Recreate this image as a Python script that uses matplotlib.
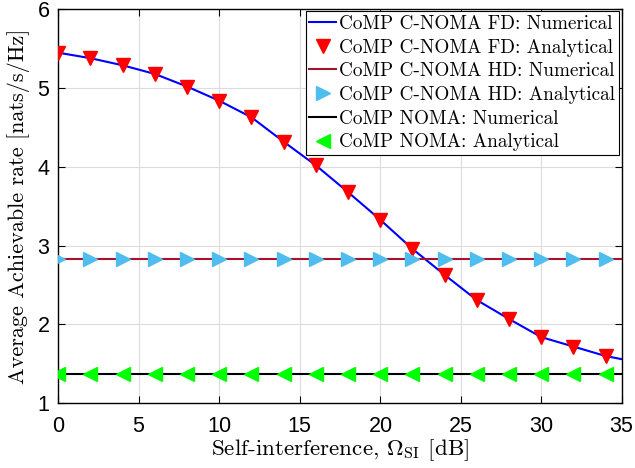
import matplotlib
matplotlib.use("Agg")
import matplotlib.pyplot as plt
import numpy as np

plt.rcParams['mathtext.fontset'] = 'cm'
plt.rcParams['axes.formatter.use_mathtext'] = True

# Data
si_db = [0, 2, 4, 6, 8, 10, 12, 14, 16, 18, 20, 22, 24, 26, 28, 30, 32, 34]
fd_analytical = [5.45, 5.38, 5.29, 5.18, 5.02, 4.84, 4.63, 4.32, 4.02, 3.68,
                 3.33, 2.96, 2.63, 2.31, 2.07, 1.84, 1.72, 1.60]
fd_num_x = [0, 2, 4, 6, 8, 10, 12, 14, 16, 18, 20, 22, 24, 26, 28, 30, 32, 34, 35]
fd_numerical = [5.45, 5.38, 5.29, 5.18, 5.02, 4.84, 4.63, 4.32, 4.02, 3.68,
                3.33, 2.96, 2.63, 2.31, 2.07, 1.84, 1.72, 1.60, 1.56]
hd_value = 2.83
noma_value = 1.37
xticks = [0, 5, 10, 15, 20, 25, 30, 35]
yticks = [1, 2, 3, 4, 5, 6]

fig = plt.figure(figsize=(6.35, 4.68), dpi=100)
ax = fig.add_axes([0.0918, 0.1383, 0.979 - 0.0918, 0.980 - 0.1383])

hd_x = [0, 35]
l1, = ax.plot(fd_num_x, fd_numerical, color='#0000FF', lw=1.5, zorder=3)
m1, = ax.plot(si_db, fd_analytical, ls='none', marker='v', color='#FF0000',
              markersize=10, zorder=4)
l2, = ax.plot(hd_x, [hd_value] * 2, color='#A2142F', lw=1.5, zorder=3)
m2, = ax.plot(si_db, [hd_value] * len(si_db), ls='none', marker='>',
              color='#4DBEEE', markersize=10, zorder=4)
l3, = ax.plot(hd_x, [noma_value] * 2, color='black', lw=1.5, zorder=3)
m3, = ax.plot(si_db, [noma_value] * len(si_db), ls='none', marker='<',
              color='#00FF00', markersize=10, zorder=4)

ax.set_xlim(0, 35)
ax.set_ylim(1, 6)
ax.set_xticks(xticks)
ax.set_yticks(yticks)
ax.grid(True, color='#DCDCDC', lw=0.8)
ax.set_axisbelow(True)
ax.tick_params(direction='in', top=True, right=True, length=5, width=0.8,
               labelsize=15.5)
ax.tick_params(axis='x', pad=9)
ax.tick_params(axis='y', pad=6)
for lab in ax.get_xticklabels() + ax.get_yticklabels():
    lab.set_family('Liberation Sans')
for sp in ax.spines.values():
    sp.set_linewidth(1.0)
    sp.set_color('black')

ax.set_xlabel(r'Self-interference, $\Omega_{\mathrm{SI}}$ [dB]',
              family='cmr10', fontsize=16.6, labelpad=0)
ax.set_ylabel('Average Achievable rate [nats/s/Hz]', family='cmr10',
              fontsize=16, labelpad=5)

labels = ['CoMP C-NOMA FD: Numerical', 'CoMP C-NOMA FD: Analytical',
          'CoMP C-NOMA HD: Numerical', 'CoMP C-NOMA HD: Analytical',
          'CoMP NOMA: Numerical', 'CoMP NOMA: Analytical']
leg = ax.legend([l1, m1, l2, m2, l3, m3], labels,
                loc='upper right', bbox_to_anchor=(619 / 635, 1 - 11 / 468),
                bbox_transform=fig.transFigure,
                prop={'family': 'cmr10', 'size': 13.8},
                frameon=True, fancybox=False, edgecolor='black',
                framealpha=1, borderpad=0.2, labelspacing=0.3,
                handlelength=1.4, handletextpad=0.15, borderaxespad=0)
leg.get_frame().set_linewidth(0.8)

fig.savefig('out.png', dpi=100)
